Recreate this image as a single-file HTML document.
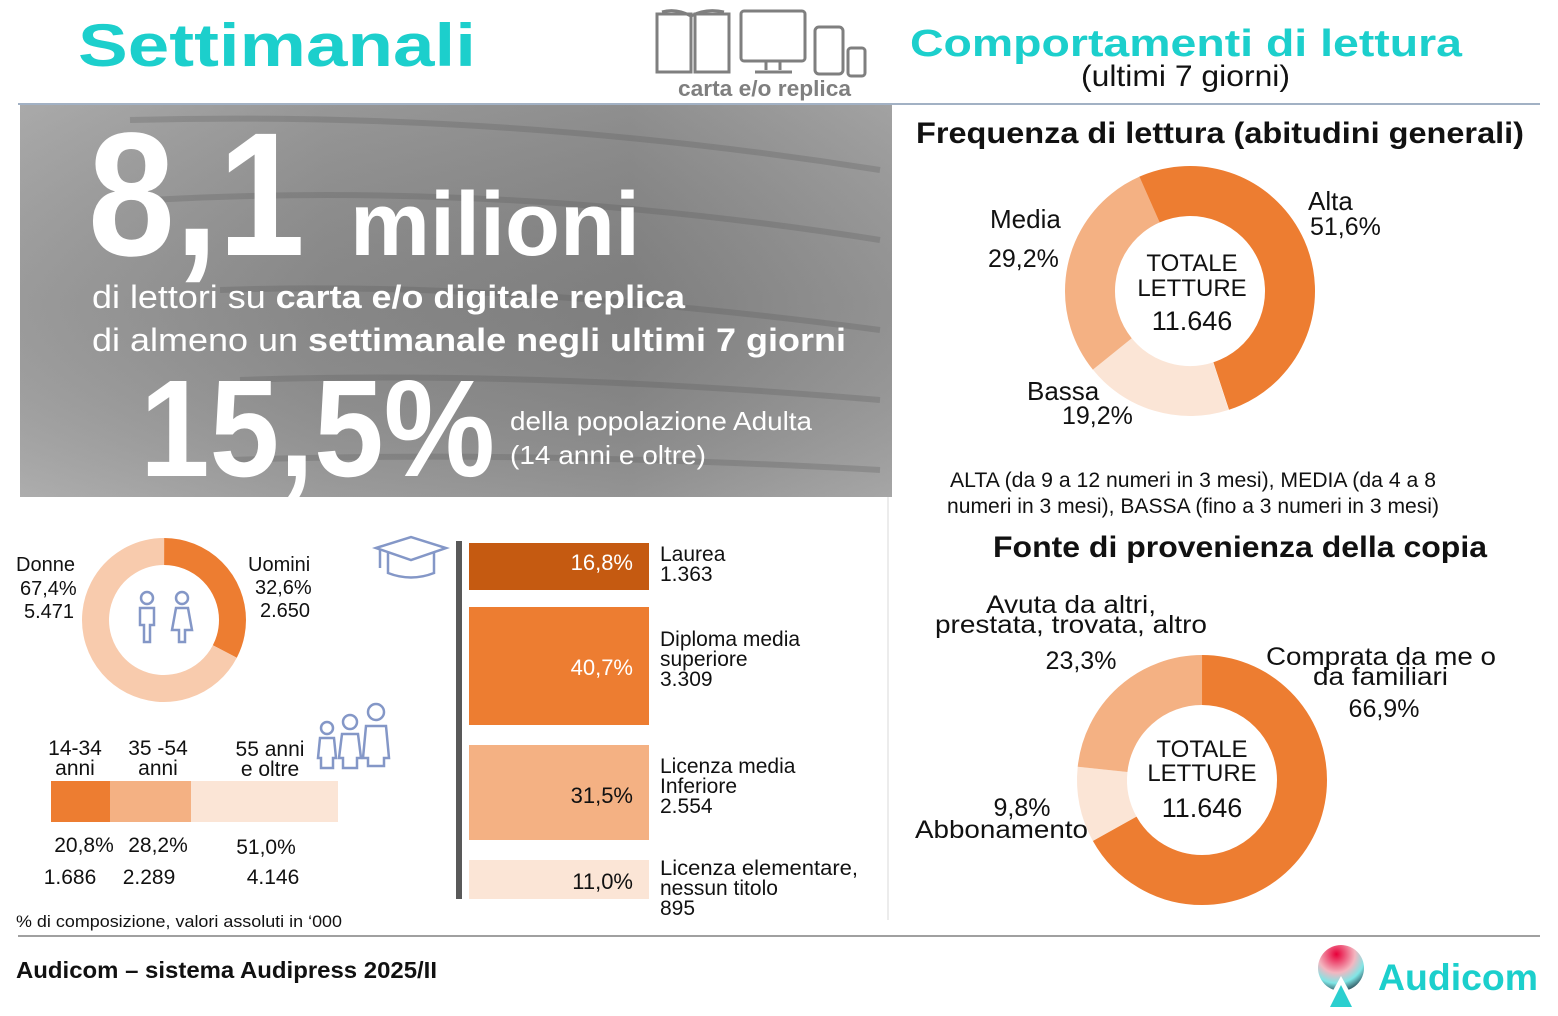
<!DOCTYPE html>
<html><head><meta charset="utf-8"><style>
html,body{margin:0;padding:0;background:#fff}
svg{display:block}
text{font-family:"Liberation Sans",Arial,sans-serif}
</style></head><body>
<svg width="1558" height="1016" viewBox="0 0 1558 1016" xmlns="http://www.w3.org/2000/svg">
<defs>
<linearGradient id="bg" x1="0" y1="0" x2="1" y2="0">
<stop offset="0" stop-color="#a2a2a2"/><stop offset="0.35" stop-color="#8e8e8e"/><stop offset="0.7" stop-color="#858585"/><stop offset="1" stop-color="#9a9a9a"/>
</linearGradient>
<linearGradient id="bg2" x1="0" y1="0" x2="0" y2="1">
<stop offset="0" stop-color="#fff" stop-opacity="0.08"/><stop offset="0.5" stop-color="#000" stop-opacity="0.05"/><stop offset="1" stop-color="#fff" stop-opacity="0.12"/>
</linearGradient>
<radialGradient id="logo" cx="0.4" cy="0.2" r="0.9">
<stop offset="0" stop-color="#e8003a"/><stop offset="0.45" stop-color="#f3b6c0"/><stop offset="0.7" stop-color="#7fe6e6"/><stop offset="1" stop-color="#101828"/>
</radialGradient>
</defs>
<text x="78" y="66" font-size="60" font-weight="bold" fill="#1ccfcc" textLength="398" lengthAdjust="spacingAndGlyphs">Settimanali</text>
<g fill="none" stroke="#7f7f7f" stroke-width="3">
<path d="M657 14 L657 72 L691 72 L691 14 Z M695 14 L695 72 L729 72 L729 14 Z"/>
<path d="M662 12 Q676 8 691 16 Q706 8 724 12"/>
<rect x="741" y="11" width="64" height="50" rx="3"/>
<path d="M766 61 L766 70 M780 61 L780 70 M755 72 L792 72"/>
<rect x="815" y="27" width="28" height="47" rx="4"/>
<rect x="848" y="48" width="17" height="28" rx="3"/>
</g>
<text x="678" y="96" font-size="22" font-weight="bold" fill="#7f7f7f" textLength="173" lengthAdjust="spacingAndGlyphs">carta e/o replica</text>
<text x="910" y="56" font-size="38" font-weight="bold" fill="#1ccfcc" textLength="552" lengthAdjust="spacingAndGlyphs">Comportamenti di lettura</text>
<text x="1081" y="86" font-size="30" fill="#111" textLength="209" lengthAdjust="spacingAndGlyphs">(ultimi 7 giorni)</text>
<line x1="18" y1="104" x2="1540" y2="104" stroke="#8497b0" stroke-width="1.5"/>

<rect x="20" y="105" width="872" height="392" fill="url(#bg)"/>
<rect x="20" y="105" width="872" height="392" fill="url(#bg2)"/>
<g opacity="0.25" stroke="#555" stroke-width="6" fill="none">
<path d="M130 120 Q500 110 880 170"/><path d="M150 200 Q500 180 880 240"/><path d="M220 290 Q500 280 880 330"/><path d="M240 380 Q520 370 880 400"/><path d="M230 460 Q520 450 880 470"/>
</g>
<text x="88" y="255" font-size="176" font-weight="bold" fill="#fff" textLength="217" lengthAdjust="spacingAndGlyphs">8,1</text>
<text x="350" y="255" font-size="90" font-weight="bold" fill="#fff" textLength="290" lengthAdjust="spacingAndGlyphs">milioni</text>
<text x="92" y="308" font-size="32" fill="#fff" textLength="593" lengthAdjust="spacingAndGlyphs">di lettori su <tspan font-weight="bold">carta e/o digitale replica</tspan></text>
<text x="92" y="351" font-size="32" fill="#fff" textLength="754" lengthAdjust="spacingAndGlyphs">di almeno un <tspan font-weight="bold">settimanale negli ultimi 7 giorni</tspan></text>
<text x="140" y="476" font-size="138" font-weight="bold" fill="#fff" textLength="355" lengthAdjust="spacingAndGlyphs">15,5%</text>
<text x="510" y="430" font-size="26" fill="#fff" textLength="302" lengthAdjust="spacingAndGlyphs">della popolazione Adulta</text>
<text x="510" y="464" font-size="26" fill="#fff" textLength="196" lengthAdjust="spacingAndGlyphs">(14 anni e oltre)</text>

<text x="916" y="143" font-size="30" font-weight="bold" fill="#111" textLength="608" lengthAdjust="spacingAndGlyphs">Frequenza di lettura  (abitudini generali)</text>
<g fill="none" stroke-width="50">
<circle cx="1190" cy="291" r="100" stroke="#ED7D31" stroke-dasharray="324.2 400" transform="rotate(-114 1190 291)"/>
<circle cx="1190" cy="291" r="100" stroke="#FBE5D6" stroke-dasharray="120.6 600" transform="rotate(72 1190 291)"/>
<circle cx="1190" cy="291" r="100" stroke="#F4B183" stroke-dasharray="183.5 600" transform="rotate(141 1190 291)"/>
</g>
<g font-size="24" fill="#111">
<text x="1192" y="271" text-anchor="middle">TOTALE</text>
<text x="1192" y="296" text-anchor="middle">LETTURE</text>
<text x="1192" y="330" font-size="27" text-anchor="middle">11.646</text>
<text x="990" y="228" font-size="26">Media</text>
<text x="988" y="267" font-size="25">29,2%</text>
<text x="1308" y="210" font-size="26">Alta</text>
<text x="1310" y="235" font-size="25">51,6%</text>
<text x="1027" y="400" font-size="26">Bassa</text>
<text x="1062" y="424" font-size="25">19,2%</text>
<text x="950" y="487" font-size="21" textLength="486" lengthAdjust="spacingAndGlyphs">ALTA (da 9 a 12 numeri in 3 mesi), MEDIA (da 4 a 8</text>
<text x="947" y="513" font-size="21" textLength="492" lengthAdjust="spacingAndGlyphs">numeri in 3 mesi), BASSA (fino a 3 numeri in 3 mesi)</text>
</g>

<text x="993" y="557" font-size="30" font-weight="bold" fill="#111" textLength="494" lengthAdjust="spacingAndGlyphs">Fonte di provenienza della copia</text>
<g fill="none" stroke-width="50">
<circle cx="1202" cy="780" r="100" stroke="#ED7D31" stroke-dasharray="420.3 400" transform="rotate(-90 1202 780)"/>
<circle cx="1202" cy="780" r="100" stroke="#FBE5D6" stroke-dasharray="61.6 700" transform="rotate(150.8 1202 780)"/>
<circle cx="1202" cy="780" r="100" stroke="#F4B183" stroke-dasharray="146.4 700" transform="rotate(186.1 1202 780)"/>
</g>
<g font-size="25" fill="#111">
<text x="1202" y="757" font-size="24" text-anchor="middle">TOTALE</text>
<text x="1202" y="781" font-size="24" text-anchor="middle">LETTURE</text>
<text x="1202" y="817" font-size="27" text-anchor="middle">11.646</text>
<text x="986" y="613" textLength="170" lengthAdjust="spacingAndGlyphs">Avuta da altri,</text>
<text x="935" y="633" textLength="272" lengthAdjust="spacingAndGlyphs">prestata, trovata, altro</text>
<text x="1081" y="669" text-anchor="middle">23,3%</text>
<text x="1266" y="665" textLength="230" lengthAdjust="spacingAndGlyphs">Comprata da me o</text>
<text x="1313" y="685" textLength="135" lengthAdjust="spacingAndGlyphs">da familiari</text>
<text x="1384" y="717" text-anchor="middle">66,9%</text>
<text x="1022" y="816" text-anchor="middle">9,8%</text>
<text x="915" y="838" textLength="173" lengthAdjust="spacingAndGlyphs">Abbonamento</text>
</g>
<line x1="888" y1="497" x2="888" y2="920" stroke="#d9d9d9" stroke-width="1"/>

<g fill="none" stroke-width="27">
<circle cx="164" cy="620" r="68.5" stroke="#ED7D31" stroke-dasharray="140.3 400" transform="rotate(-90 164 620)"/>
<circle cx="164" cy="620" r="68.5" stroke="#F8CBAD" stroke-dasharray="290.1 400" transform="rotate(27.4 164 620)"/>
</g>
<g fill="none" stroke="#8497c7" stroke-width="2.5">
<circle cx="147" cy="598" r="6"/><path d="M140 608 L154 608 L154 625 L150 625 L150 642 L144 642 L144 625 L140 625 Z"/>
<circle cx="182" cy="598" r="6"/><path d="M176 608 L188 608 L192 630 L185 630 L185 642 L179 642 L179 630 L172 630 Z"/>
</g>
<g font-size="20" fill="#111">
<text x="16" y="571">Donne</text><text x="20" y="595">67,4%</text><text x="24" y="618">5.471</text>
<text x="248" y="571">Uomini</text><text x="255" y="594">32,6%</text><text x="260" y="617">2.650</text>
</g>

<g fill="none" stroke="#8497c7" stroke-width="2.5">
<circle cx="327" cy="728" r="6"/><path d="M320 738 L334 738 L336 758 L333 758 L333 768 L321 768 L321 758 L318 758 Z"/>
<circle cx="350" cy="722" r="7"/><path d="M342 734 L358 734 L361 758 L357 758 L357 768 L343 768 L343 758 L339 758 Z"/>
<circle cx="376" cy="712" r="8"/><path d="M366 726 L386 726 L389 758 L384 758 L384 766 L368 766 L368 758 L363 758 Z"/>
</g>
<rect x="51" y="781" width="59" height="41" fill="#ED7D31"/>
<rect x="110" y="781" width="81" height="41" fill="#F4B183"/>
<rect x="191" y="781" width="147" height="41" fill="#FBE5D6"/>
<g font-size="21" fill="#111" text-anchor="middle">
<text x="75" y="755">14-34</text><text x="75" y="775">anni</text>
<text x="158" y="755">35 -54</text><text x="158" y="775">anni</text>
<text x="270" y="756">55 anni</text><text x="270" y="776">e oltre</text>
<text x="84" y="852">20,8%</text><text x="158" y="852">28,2%</text><text x="266" y="854">51,0%</text>
<text x="70" y="884">1.686</text><text x="149" y="884">2.289</text><text x="273" y="884">4.146</text>
</g>
<text x="16" y="927" font-size="17" fill="#111" textLength="326" lengthAdjust="spacingAndGlyphs">% di composizione, valori assoluti in ‘000</text>

<g fill="none" stroke="#8497c7" stroke-width="2.5">
<path d="M376 548 L411 537 L446 548 L411 560 Z"/><path d="M388 553 L388 573 Q411 582 434 573 L434 553"/><path d="M380 550 L380 568"/>
</g>
<rect x="456" y="541" width="6" height="358" fill="#595959"/>
<rect x="469" y="543" width="180" height="47" fill="#C55A11"/>
<rect x="469" y="607" width="180" height="118" fill="#ED7D31"/>
<rect x="469" y="745" width="180" height="95" fill="#F4B183"/>
<rect x="469" y="860" width="180" height="39" fill="#FBE5D6"/>
<g font-size="22" text-anchor="end">
<text x="633" y="570" fill="#fff">16,8%</text>
<text x="633" y="675" fill="#fff">40,7%</text>
<text x="633" y="803" fill="#111">31,5%</text>
<text x="633" y="889" fill="#111">11,0%</text>
</g>
<g font-size="21" fill="#111">
<text x="660" y="561">Laurea</text><text x="660" y="581">1.363</text>
<text x="660" y="646">Diploma media</text><text x="660" y="666">superiore</text><text x="660" y="686">3.309</text>
<text x="660" y="773">Licenza media</text><text x="660" y="793">Inferiore</text><text x="660" y="813">2.554</text>
<text x="660" y="875" textLength="198" lengthAdjust="spacingAndGlyphs">Licenza elementare,</text><text x="660" y="895">nessun titolo</text><text x="660" y="915">895</text>
</g>

<line x1="18" y1="936" x2="1540" y2="936" stroke="#808080" stroke-width="1.5"/>
<text x="16" y="978" font-size="23" font-weight="bold" fill="#111" textLength="421" lengthAdjust="spacingAndGlyphs">Audicom – sistema Audipress 2025/II</text>
<circle cx="1341" cy="968" r="23" fill="url(#logo)"/>
<path d="M1341 976 L1324 1007 L1358 1007 Z" fill="#fff"/>
<path d="M1341 985 L1330 1007 L1352 1007 Z" fill="#2bcfcf"/>
<text x="1378" y="990" font-size="37" font-weight="bold" fill="#1ccfcc" textLength="160" lengthAdjust="spacingAndGlyphs">Audicom</text>
</svg>
</body></html>
